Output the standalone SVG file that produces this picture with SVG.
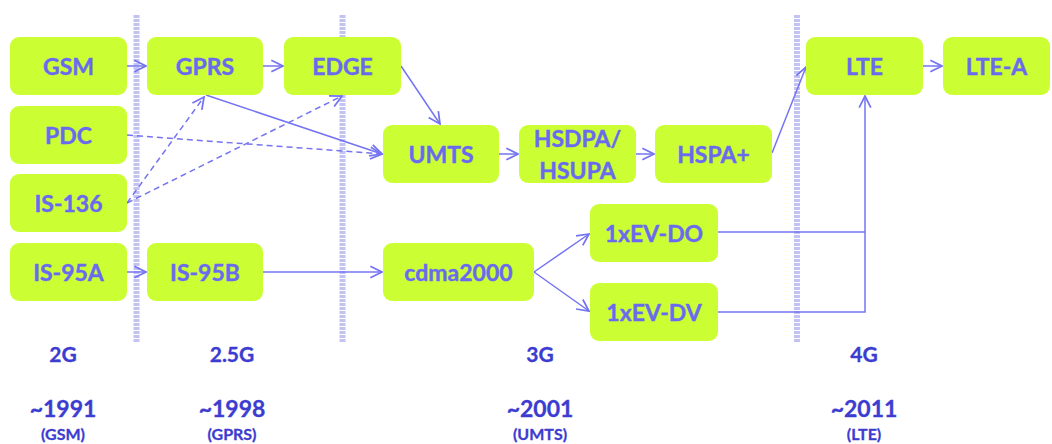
<svg xmlns="http://www.w3.org/2000/svg" width="1052" height="444" viewBox="0 0 1052 444">
  <defs>
    <style>
      .node rect { fill: #ccff33; }
      .node text { font-family: Lato, "Open Sans", sans-serif; font-weight: 700; font-size: 23px; fill: #6a6aee; stroke: #6a6aee; stroke-width: 0.4; text-anchor: middle; }
      .era { font-family: Lato, "Open Sans", sans-serif; font-weight: 700; fill: #3c3cd0; stroke: #3c3cd0; stroke-width: 0.3; text-anchor: middle; }
      .gen { font-size: 21px; }
      .year { font-size: 23px; }
      .sub { font-size: 16px; }
      .bar { stroke: #c2c2f3; stroke-width: 6; stroke-dasharray: 3 1; }
      .link { fill: none; stroke: #7474f2; stroke-width: 1.5; }
      .dash { stroke-dasharray: 6 4; }
    </style>
    <marker id="arrow" markerUnits="userSpaceOnUse" markerWidth="14" markerHeight="14" viewBox="0 0 12 12" refX="11" refY="6" orient="auto">
      <path d="M1,1 L11,6 L1,11" fill="none" stroke="#7474f2" stroke-width="1.5"/>
    </marker>
  </defs>

  <!-- generation dividers -->
  <g id="dividers">
    <line class="bar" x1="136.5" y1="15" x2="136.5" y2="342"/>
    <line class="bar" x1="342.5" y1="15" x2="342.5" y2="342"/>
    <line class="bar" x1="797" y1="15" x2="797" y2="342"/>
  </g>

  <!-- connectors -->
  <g id="connectors">
    <line class="link" x1="127" y1="66" x2="146" y2="66" marker-end="url(#arrow)"/>
    <line class="link" x1="263" y1="66" x2="283" y2="66" marker-end="url(#arrow)"/>
    <line class="link" x1="401" y1="66" x2="440" y2="124" marker-end="url(#arrow)"/>
    <line class="link" x1="206" y1="95" x2="382" y2="154" marker-end="url(#arrow)"/>
    <line class="link dash" x1="127" y1="135" x2="382" y2="154" marker-end="url(#arrow)"/>
    <line class="link dash" x1="127" y1="203" x2="204" y2="97" marker-end="url(#arrow)"/>
    <line class="link dash" x1="127" y1="203" x2="342" y2="96" marker-end="url(#arrow)"/>
    <line class="link" x1="499" y1="154" x2="518" y2="154" marker-end="url(#arrow)"/>
    <line class="link" x1="636" y1="154" x2="654" y2="154" marker-end="url(#arrow)"/>
    <line class="link" x1="772" y1="153" x2="806" y2="67" marker-end="url(#arrow)"/>
    <line class="link" x1="923" y1="66" x2="942" y2="66" marker-end="url(#arrow)"/>
    <line class="link" x1="127" y1="272" x2="146" y2="272" marker-end="url(#arrow)"/>
    <line class="link" x1="263" y1="272" x2="382" y2="272" marker-end="url(#arrow)"/>
    <line class="link" x1="534" y1="272" x2="589" y2="234" marker-end="url(#arrow)"/>
    <line class="link" x1="534" y1="272" x2="589" y2="311" marker-end="url(#arrow)"/>
    <polyline class="link" points="718,232 865,232"/>
    <polyline class="link" points="718,312 865,312 865,96" marker-end="url(#arrow)"/>
  </g>

  <!-- technology nodes -->
  <g id="gsm" class="node"><rect x="10" y="37" width="117" height="58" rx="9"/><text x="68.5" y="74.5">GSM</text></g>
  <g id="pdc" class="node"><rect x="10" y="106" width="117" height="58" rx="9"/><text x="68.5" y="143.5">PDC</text></g>
  <g id="is136" class="node"><rect x="10" y="174" width="117" height="58" rx="9"/><text x="68.5" y="211.5">IS-136</text></g>
  <g id="is95a" class="node"><rect x="10" y="243" width="117" height="58" rx="9"/><text x="68.5" y="280.5">IS-95A</text></g>
  <g id="gprs" class="node"><rect x="147" y="37" width="116" height="58" rx="9"/><text x="205" y="74.5">GPRS</text></g>
  <g id="is95b" class="node"><rect x="147" y="243" width="116" height="58" rx="9"/><text x="205" y="280.5">IS-95B</text></g>
  <g id="edge" class="node"><rect x="284" y="37" width="117" height="58" rx="9"/><text x="342.5" y="74.5">EDGE</text></g>
  <g id="umts" class="node"><rect x="383" y="125" width="116" height="58" rx="9"/><text x="441" y="162.5">UMTS</text></g>
  <g id="hsdpa" class="node"><rect x="519" y="125" width="117" height="58" rx="9"/><text x="577.5" y="147">HSDPA/</text><text x="577.5" y="179">HSUPA</text></g>
  <g id="hspa" class="node"><rect x="655" y="125" width="117" height="58" rx="9"/><text x="713.5" y="162.5">HSPA+</text></g>
  <g id="cdma2000" class="node"><rect x="383" y="243" width="151" height="58" rx="9"/><text x="458.5" y="280.5">cdma2000</text></g>
  <g id="evdo" class="node"><rect x="590" y="204" width="128" height="58" rx="9"/><text x="654" y="241.5">1xEV-DO</text></g>
  <g id="evdv" class="node"><rect x="590" y="283" width="128" height="58" rx="9"/><text x="654" y="320.5">1xEV-DV</text></g>
  <g id="lte" class="node"><rect x="806" y="37" width="117" height="58" rx="9"/><text x="864.5" y="74.5">LTE</text></g>
  <g id="ltea" class="node"><rect x="943" y="37" width="107" height="58" rx="9"/><text x="996.5" y="74.5">LTE-A</text></g>

  <!-- generation labels -->
  <g id="era-2g" class="era"><text class="gen" x="63" y="362">2G</text><text class="year" x="63" y="417">~1991</text><text class="sub" x="63" y="440">(GSM)</text></g>
  <g id="era-25g" class="era"><text class="gen" x="232" y="362">2.5G</text><text class="year" x="232" y="417">~1998</text><text class="sub" x="232" y="440">(GPRS)</text></g>
  <g id="era-3g" class="era"><text class="gen" x="540" y="362">3G</text><text class="year" x="540" y="417">~2001</text><text class="sub" x="540" y="440">(UMTS)</text></g>
  <g id="era-4g" class="era"><text class="gen" x="864" y="362">4G</text><text class="year" x="864" y="417">~2011</text><text class="sub" x="864" y="440">(LTE)</text></g>
</svg>
